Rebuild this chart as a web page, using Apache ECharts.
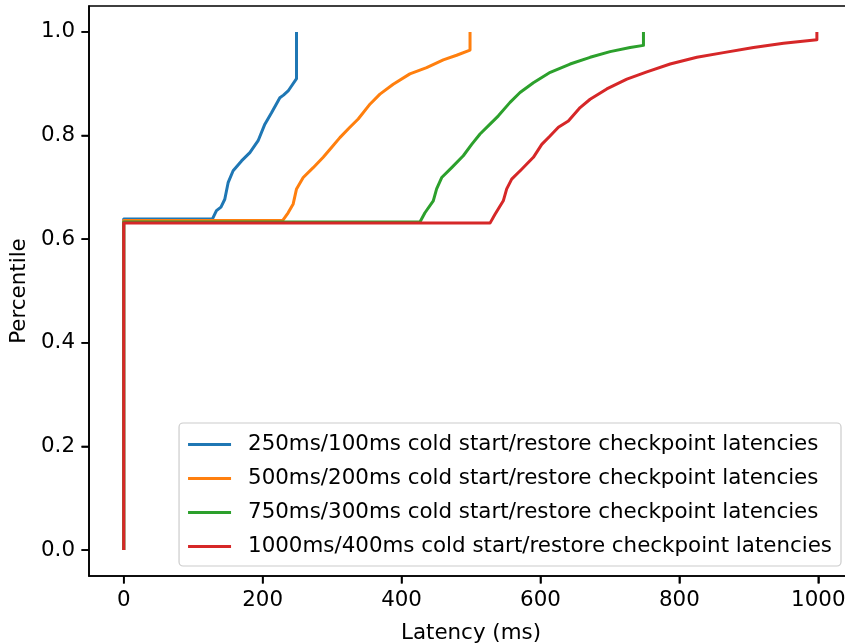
<!DOCTYPE html>
<html>
<head>
<meta charset="utf-8">
<script src="https://cdn.jsdelivr.net/npm/echarts@6/dist/echarts.min.js"></script>
<style>
html,body{margin:0;padding:0;background:#fff;}
#chart{width:845px;height:643px;}
</style>
</head>
<body>
<div id="chart"></div>
<script>
// Tick labels
const xTicks = [0, 200, 400, 600, 800, 1000];
const yTicks = [0.0, 0.2, 0.4, 0.6, 0.8, 1.0];

// Series names
const seriesNames = [
  "250ms/100ms cold start/restore checkpoint latencies",
  "500ms/200ms cold start/restore checkpoint latencies",
  "750ms/300ms cold start/restore checkpoint latencies",
  "1000ms/400ms cold start/restore checkpoint latencies"
];
const seriesColors = ["#1f77b4", "#ff7f0e", "#2ca02c", "#d62728"];

// CDF points [latency ms, percentile]
const cdf250 = [[0,0],[0,0.639],[127.8,0.639],[133.5,0.655],[140,0.662],[145.5,0.677],[150.3,0.709],[157.5,0.732],[169.6,0.751],[181.6,0.767],[193.5,0.79],[203.2,0.822],[212.8,0.844],[224.8,0.873],[230,0.878],[236.7,0.886],[248.8,0.91],[248.8,1.0]];
const cdf500 = [[0,0],[0,0.636],[228.7,0.636],[236.7,0.651],[244,0.668],[248.8,0.697],[258.4,0.719],[272.8,0.738],[287.2,0.758],[299.2,0.777],[311.2,0.796],[325.6,0.816],[337.6,0.832],[354.8,0.861],[368.9,0.88],[388,0.899],[412,0.919],[436.1,0.931],[460.1,0.946],[479.3,0.955],[498.6,0.965],[498.6,1.0]];
const cdf750 = [[0,0],[0,0.633],[426.5,0.633],[433.7,0.651],[445.7,0.674],[450.5,0.697],[457.8,0.719],[472.2,0.738],[488.9,0.761],[501,0.783],[513,0.803],[527.4,0.822],[539.4,0.838],[556.2,0.864],[570.6,0.883],[589.8,0.902],[614.1,0.922],[642.7,0.938],[671.5,0.951],[700.3,0.962],[729.1,0.97],[748.3,0.974],[748.3,1.0]];
const cdf1000 = [[0,0],[0,0.631],[527.4,0.631],[534.6,0.648],[546.5,0.674],[551.4,0.697],[558.6,0.716],[573,0.735],[589.8,0.758],[601.9,0.783],[613.8,0.799],[625.8,0.816],[640.2,0.828],[657.1,0.854],[671.5,0.87],[695.5,0.89],[724.4,0.909],[753.2,0.923],[786.7,0.938],[825.2,0.951],[863.6,0.96],[906.8,0.97],[950,0.978],[998,0.985],[998,1.0]];

const allData = [cdf250, cdf500, cdf750, cdf1000];
const FONT = 'DejaVu Sans';
const FS = 21.4;
const X_MIN = -50, X_MAX = 1050, Y_MIN = -0.05, Y_MAX = 1.05;

const chart = echarts.init(document.getElementById('chart'), null, {renderer: 'canvas'});
function makeAxis(extra, ticks, fmt) {
  return Object.assign({
    type: 'value',
    axisLine: {show: true, onZero: false, lineStyle: {color: '#000', width: 1.6}},
    splitLine: {show: false},
    axisTick: {show: true, length: 7.5, lineStyle: {color: '#000', width: 1.6}, customValues: ticks},
    axisLabel: {color: '#000', fontFamily: FONT, fontSize: FS, margin: 14, customValues: ticks, formatter: fmt},
    nameTextStyle: {color: '#000', fontFamily: FONT, fontSize: FS}
  }, extra);
}
chart.setOption({
  animation: false,
  backgroundColor: '#fff',
  grid: {left: 89, top: 6, width: 764, height: 570, outerBoundsMode: 'none',
         show: true, borderColor: '#000', borderWidth: 1.6},
  xAxis: makeAxis({min: X_MIN, max: X_MAX, position: 'bottom', name: 'Latency (ms)', nameLocation: 'middle', nameGap: 47},
                  xTicks, v => String(v)),
  yAxis: makeAxis({min: Y_MIN, max: Y_MAX, position: 'left', name: 'Percentile', nameLocation: 'middle', nameGap: 58, nameRotate: 90},
                  yTicks, v => Number(v).toFixed(1)),
  legend: {
    orient: 'vertical', right: 4, bottom: 77,
    data: seriesNames,
    icon: 'rect', itemWidth: 43, itemHeight: 3, itemGap: 11,
    padding: [10, 9, 8, 9],
    backgroundColor: 'rgba(255,255,255,0.8)', borderColor: '#cccccc', borderWidth: 1.2, borderRadius: 4,
    textStyle: {color: '#000', fontFamily: FONT, fontSize: FS, lineHeight: 23, padding: [0, 0, 0, 12]}
  },
  series: allData.map((d, i) => ({
    name: seriesNames[i], type: 'line', data: d,
    showSymbol: false, symbol: 'none', clip: true,
    lineStyle: {color: seriesColors[i], width: 3, join: 'round'},
    itemStyle: {color: seriesColors[i]},
    z: 2 + i
  }))
});

// Tick marks placed through the library's own axis scales
const TICK_LEN = 7.5;
const tickGraphics = [];
const yBottomPx = chart.convertToPixel({yAxisIndex: 0}, Y_MIN);
const xLeftPx = chart.convertToPixel({xAxisIndex: 0}, X_MIN);
xTicks.forEach(v => {
  const px = chart.convertToPixel({xAxisIndex: 0}, v);
  tickGraphics.push({type: 'line', silent: true, z: 10,
    shape: {x1: px, y1: yBottomPx, x2: px, y2: yBottomPx + TICK_LEN},
    style: {stroke: '#000', lineWidth: 1.6}});
});
yTicks.forEach(v => {
  const py = chart.convertToPixel({yAxisIndex: 0}, v);
  tickGraphics.push({type: 'line', silent: true, z: 10,
    shape: {x1: xLeftPx - TICK_LEN, y1: py, x2: xLeftPx, y2: py},
    style: {stroke: '#000', lineWidth: 1.6}});
});
chart.setOption({graphic: tickGraphics});
</script>
</body>
</html>
